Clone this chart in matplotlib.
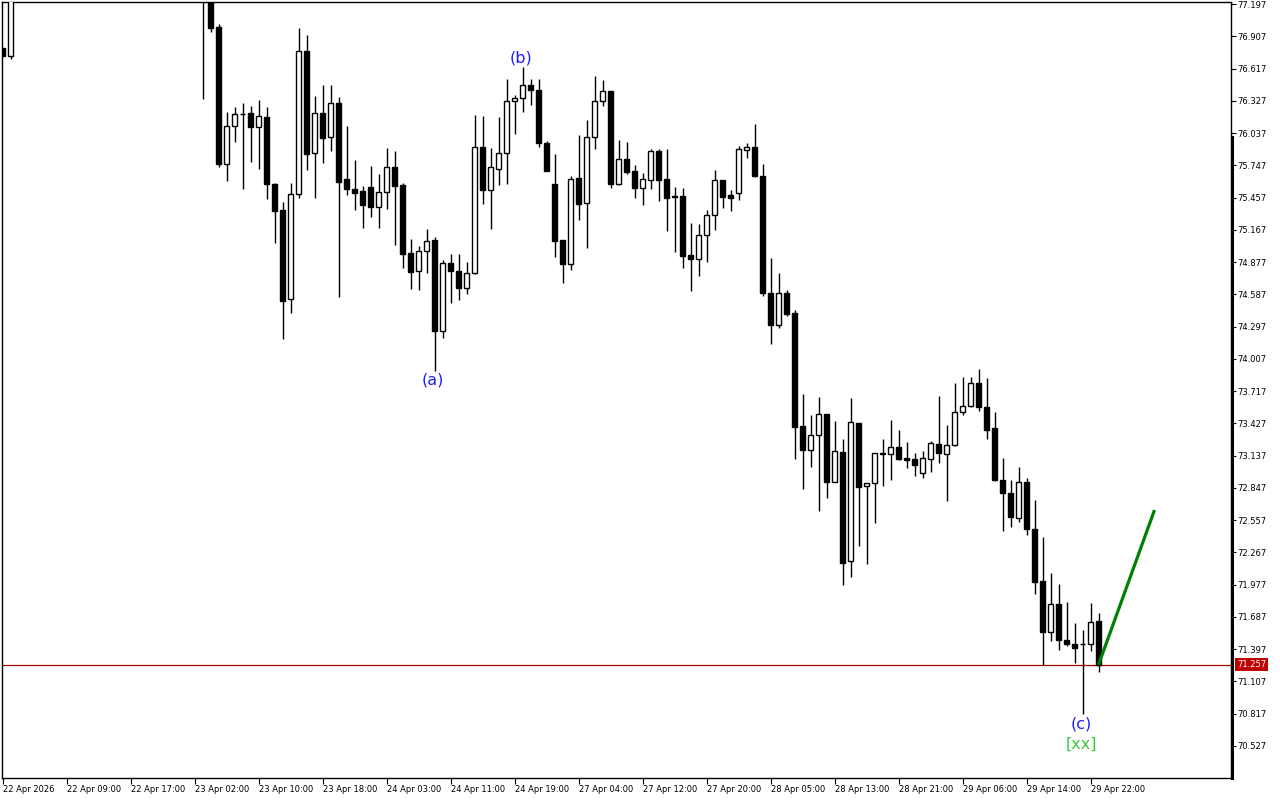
import matplotlib
matplotlib.use("Agg")
import matplotlib.pyplot as plt
import numpy as np
from matplotlib.lines import Line2D

nan = float("nan")

# ---------------- data (hourly candles, index 0 = 22 Apr 2026 00:00) ----------------
opens = [76.799, 76.732] + [nan] * 23 + [
    77.400, 77.330, 76.990, 75.761, 76.098, 76.208, 76.217, 76.094, 76.181, 75.582,
    75.345, 74.542, 75.486, 76.775, 75.860, 76.217, 75.999, 76.307, 75.624, 75.534,
    75.516, 75.552, 75.375, 75.510, 75.732, 75.570, 74.959, 74.794, 74.974, 75.073,
    74.255, 74.866, 74.797, 74.641, 74.776, 75.909, 75.528, 75.711, 75.855, 76.322,
    76.349, 76.466, 76.421, 75.945, 75.576, 75.073, 74.857, 75.633, 75.411, 75.999,
    76.322, 76.412, 75.582, 75.801, 75.693, 75.546, 75.618, 75.873, 75.621, 75.468,
    75.468, 74.940, 74.907, 75.123, 75.297, 75.612, 75.477, 75.495, 75.882, 75.909,
    75.648, 74.596, 74.309, 74.596, 74.419, 73.403, 73.185, 73.320, 73.511, 72.903,
    73.167, 72.187, 73.430, 72.861, 72.888, 73.158, 73.154, 73.215, 73.116, 73.104,
    72.983, 73.109, 73.239, 73.154, 73.230, 73.526, 73.580, 73.787, 73.571, 73.383,
    72.915, 72.798, 72.573, 72.897, 72.475, 72.007, 71.549, 71.800, 71.477, 71.441,
    71.441, 71.441, 71.648]
highs = [76.805, 77.350] + [nan] * 23 + [
    77.500, 77.380, 77.017, 76.226, 76.274, 76.304, 76.280, 76.334, 76.271, 75.591,
    75.417, 75.588, 76.981, 76.921, 76.370, 76.469, 76.469, 76.361, 76.100, 75.797,
    75.561, 75.741, 75.669, 75.905, 75.876, 75.591, 75.084, 75.021, 75.174, 75.105,
    74.896, 74.950, 74.950, 74.878, 76.199, 76.190, 75.905, 76.181, 76.523, 76.379,
    76.628, 76.520, 76.520, 75.965, 75.849, 75.075, 75.651, 76.019, 76.152, 76.550,
    76.514, 76.415, 75.977, 75.956, 75.747, 75.678, 75.893, 75.896, 75.896, 75.552,
    75.540, 75.226, 75.217, 75.345, 75.705, 75.615, 75.525, 75.918, 75.947, 76.118,
    75.759, 74.914, 74.779, 74.623, 74.443, 73.691, 73.500, 73.664, 73.511, 73.448,
    73.286, 73.655, 73.430, 72.894, 73.160, 73.286, 73.457, 73.367, 73.259, 73.158,
    73.178, 73.268, 73.673, 73.412, 73.790, 73.841, 73.841, 73.913, 73.832, 73.526,
    73.113, 72.915, 73.032, 72.933, 72.735, 72.403, 72.079, 71.980, 71.818, 71.630,
    71.567, 71.809, 71.719]
lows = [76.728, 76.705] + [nan] * 23 + [
    76.346, 76.948, 75.734, 75.609, 75.959, 75.537, 75.777, 75.716, 75.441, 75.051,
    74.188, 74.422, 75.456, 75.705, 75.456, 75.770, 75.878, 74.566, 75.483, 75.345,
    75.186, 75.285, 75.186, 75.357, 75.033, 74.824, 74.638, 74.629, 74.781, 73.900,
    74.197, 74.512, 74.539, 74.590, 74.770, 75.402, 75.177, 75.573, 75.582, 76.031,
    76.229, 76.286, 75.914, 75.695, 74.925, 74.686, 74.803, 75.258, 75.006, 75.896,
    76.283, 75.546, 75.570, 75.671, 75.456, 75.393, 75.537, 75.429, 75.159, 74.970,
    74.826, 74.620, 74.754, 74.880, 75.168, 75.366, 75.339, 75.438, 75.815, 75.645,
    74.575, 74.143, 74.287, 74.395, 73.109, 72.840, 73.037, 72.642, 72.759, 72.900,
    71.976, 72.043, 72.327, 72.165, 72.534, 72.867, 72.920, 73.100, 73.028, 72.956,
    72.938, 72.992, 73.073, 72.732, 73.227, 73.499, 73.571, 73.535, 73.284, 72.912,
    72.457, 72.493, 72.538, 72.421, 71.890, 71.252, 71.470, 71.387, 71.423, 71.270,
    70.811, 71.383, 71.194]
closes = [76.732, 77.300] + [nan] * 23 + [
    77.330, 76.984, 75.761, 76.098, 76.205, 76.204, 76.094, 76.190, 75.582, 75.339,
    74.530, 75.489, 76.775, 75.851, 76.217, 75.995, 76.307, 75.600, 75.537, 75.501,
    75.393, 75.375, 75.504, 75.732, 75.564, 74.952, 74.790, 74.976, 75.064, 74.260,
    74.866, 74.794, 74.647, 74.776, 75.909, 75.528, 75.729, 75.855, 76.322, 76.349,
    76.466, 76.421, 75.950, 75.698, 75.069, 74.857, 75.621, 75.402, 75.999, 76.322,
    76.412, 75.582, 75.801, 75.689, 75.546, 75.621, 75.873, 75.618, 75.456, 75.465,
    74.934, 74.907, 75.118, 75.297, 75.612, 75.465, 75.456, 75.891, 75.909, 75.648,
    74.596, 74.309, 74.596, 74.407, 73.397, 73.190, 73.320, 73.508, 72.903, 73.176,
    72.174, 73.437, 72.858, 72.891, 73.158, 73.156, 73.215, 73.109, 73.100, 73.055,
    73.113, 73.248, 73.163, 73.230, 73.526, 73.580, 73.787, 73.571, 73.370, 72.915,
    72.798, 72.582, 72.897, 72.475, 71.998, 71.549, 71.800, 71.477, 71.441, 71.405,
    71.441, 71.639, 71.257]

time_labels = ["22 Apr 2026", "22 Apr 09:00", "22 Apr 17:00", "23 Apr 02:00",
               "23 Apr 10:00", "23 Apr 18:00", "24 Apr 03:00", "24 Apr 11:00",
               "24 Apr 19:00", "27 Apr 04:00", "27 Apr 12:00", "27 Apr 20:00",
               "28 Apr 05:00", "28 Apr 13:00", "28 Apr 21:00", "29 Apr 06:00",
               "29 Apr 14:00", "29 Apr 22:00"]
time_label_bars = [0, 8, 16, 24, 32, 40, 48, 56, 64, 72, 80, 88, 96, 104, 112, 120, 128, 136]

price_ticks = [77.197, 76.907, 76.617, 76.327, 76.037, 75.747, 75.457, 75.167,
               74.877, 74.587, 74.297, 74.007, 73.717, 73.427, 73.137, 72.847,
               72.557, 72.267, 71.977, 71.687, 71.397, 71.107, 70.817, 70.527]

current_price = 71.257
proj_x = [137, 144]
proj_y = [71.257, 72.648]

wave_labels = ["(a)", "(b)", "(c)", "[xx]"]
wave_bars = [54, 65, 135, 135]

# ---------------- figure ----------------
fig = plt.figure(figsize=(12.8, 8), dpi=100)
ax = fig.add_axes([2 / 1280, 22 / 800, 1229 / 1280, 776 / 800])
ax.set_facecolor("white")

o = np.array(opens)
h = np.array(highs)
l = np.array(lows)
c = np.array(closes)
idx = np.arange(len(o))
valid = ~np.isnan(o)
up = valid & (c > o)
dn = valid & (c < o)
eq = valid & (c == o)

body_w = 0.52
ax.vlines(idx[valid], l[valid], h[valid], color="black", lw=1, zorder=2)
ax.bar(idx[dn], (o - c)[dn], bottom=c[dn], width=body_w, color="black",
       edgecolor="black", lw=1, zorder=3)
ax.bar(idx[up], (c - o)[up], bottom=o[up], width=body_w, color="white",
       edgecolor="black", lw=1, zorder=3)
ax.hlines(o[eq], idx[eq] - body_w / 2 - 0.06, idx[eq] + body_w / 2 + 0.06,
          color="black", lw=1, zorder=3)

# current price line
ax.axhline(current_price, color="#A00000", lw=0.9, zorder=1)

# projection
ax.plot(proj_x, proj_y, color="#008000", lw=2.3, zorder=4, solid_capstyle="butt")

# wave labels
lab_off = {"(a)": (l[54], -6.3, "#1E1EFF"), "(b)": (h[65], 6.5, "#1E1EFF"),
           "(c)": (l[135], -7.0, "#1E1EFF"), "[xx]": (l[135], -21.5, "#33CC33")}
for txt, b in zip(wave_labels, wave_bars):
    yv, off, col = lab_off[txt]
    ax.annotate(txt, xy=(b, yv), xytext=(-1, off), textcoords="offset points",
                ha="center", va="center", fontsize=11.5, color=col, zorder=5)

# axes limits
ax.set_xlim(-0.0625, 153.56)
ax.set_ylim(70.239, 77.215)

# y axis on right
ax.yaxis.tick_right()
ax.set_yticks(price_ticks)
ax.set_yticklabels([f"{v:.3f}" for v in price_ticks])
ax.tick_params(axis="y", direction="out", length=3.5, width=0.8, labelsize=6,
               pad=1.2, colors="black")

ax.set_xticks(time_label_bars)
ax.set_xticklabels(time_labels)
ax.tick_params(axis="x", direction="out", length=4, width=0.8, labelsize=6,
               pad=1.0, colors="black")
for lbl in ax.get_xticklabels():
    lbl.set_horizontalalignment("left")

for s in ax.spines.values():
    s.set_linewidth(1)
    s.set_color("black")

# thick segment of the right border
ax.add_line(Line2D([1.0012, 1.0012], [0, (778 - 137) / 776], transform=ax.transAxes,
                   color="black", lw=2.2, clip_on=False, zorder=6))

# current price tag
ax.annotate(f"{current_price:.3f}", xy=(1, current_price),
            xycoords=("axes fraction", "data"), xytext=(4.5, 0),
            textcoords="offset points", ha="left", va="center", fontsize=6,
            color="white", annotation_clip=False,
            bbox=dict(boxstyle="square,pad=0.22", fc="#C00000", ec="none"))

fig.savefig("out.png", dpi=100, facecolor="white")
